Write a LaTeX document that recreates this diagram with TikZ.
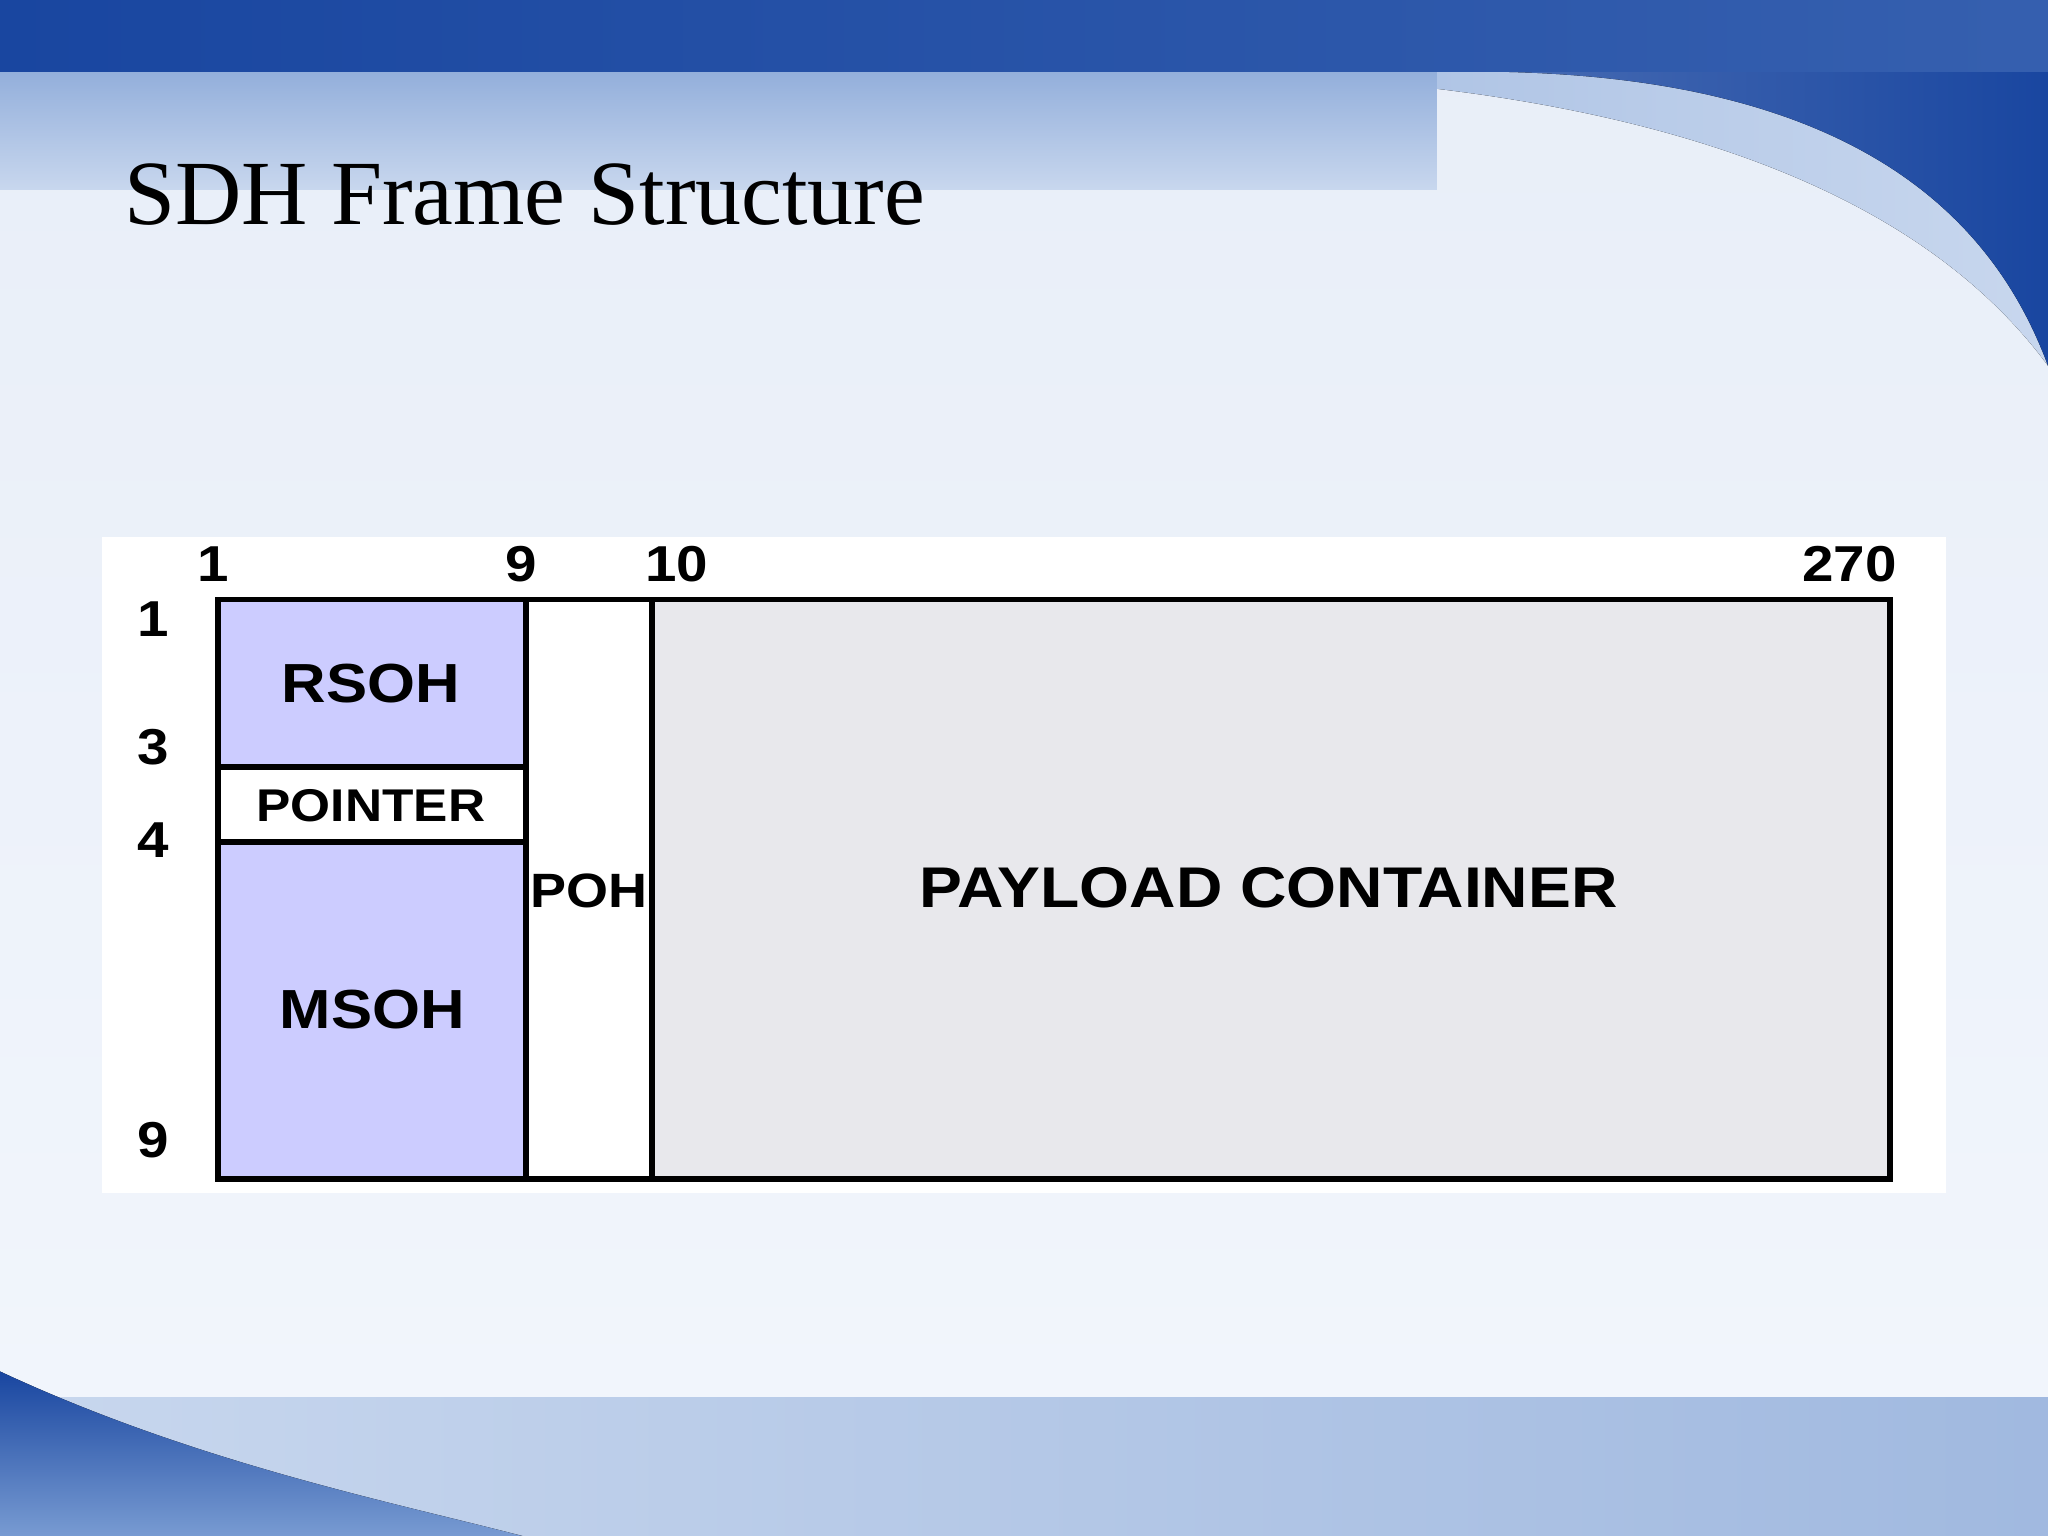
\documentclass[tikz,border=0pt]{standalone}
\usepackage{fontspec}
\setmainfont{Liberation Serif}
\newfontfamily\arial[FakeStretch=1.12]{Liberation Sans}
\definecolor{dkb}{RGB}{25,70,160}
\definecolor{mdb}{RGB}{120,155,210}
\definecolor{ltb}{RGB}{200,215,238}
\definecolor{bg1}{RGB}{232,238,248}
\definecolor{bg2}{RGB}{242,246,252}
\definecolor{lav}{RGB}{204,204,255}
\definecolor{gry}{RGB}{232,232,236}
\begin{document}
\begin{tikzpicture}[x=0.02cm,y=-0.02cm,
  box/.style={draw=black,line width=2.6pt},
  lbl/.style={font=\arial\bfseries\fontsize{24}{26}\selectfont},
  num/.style={font=\arial\bfseries\fontsize{22}{24}\selectfont}]
\useasboundingbox (0,0) rectangle (1568,1176);
% background
\fill[top color=bg1,bottom color=bg2] (0,0) rectangle (1568,1176);
\fill[left color=mdb,right color=ltb] (0,55) -- (900,55) .. controls (1200,60) and (1450,120) .. (1568,280) -- (1568,55) -- (0,55) -- cycle;
\fill[top color=mdb!80!white, bottom color=ltb] (0,55) rectangle (1100,145);
\fill[left color=dkb!80!white,right color=dkb] (1150,55) .. controls (1400,60) and (1520,150) .. (1568,280) -- (1568,55) -- cycle;
\fill[left color=dkb,right color=dkb!70!mdb] (0,0) rectangle (1568,55);
\fill[left color=ltb,right color=mdb!70!white] (0,1070) rectangle (1568,1176);
\fill[top color=dkb,bottom color=mdb] (0,1050) .. controls (150,1120) and (300,1150) .. (400,1176) -- (0,1176) -- cycle;
\node[anchor=base west,inner sep=0,font=\fontsize{40}{44}\selectfont] (title) at (95,172) {SDH Frame Structure};
% panel
\fill[white] (78,411) rectangle (1490,913);
% boxes
\draw[box,fill=lav] (167,459) rectangle (403,587);
\draw[box,fill=white] (167,587) rectangle (403,645);
\draw[box,fill=lav] (167,645) rectangle (403,903);
\draw[box,fill=white] (403,459) rectangle (499,903);
\draw[box,fill=gry] (499,459) rectangle (1447,903);
\node[lbl] (rsoh) at (284,523) {RSOH};
\node[lbl,font=\arial\bfseries\fontsize{20}{22}\selectfont] (ptr) at (284,617) {POINTER};
\node[lbl,font=\arial\bfseries\fontsize{21}{23}\selectfont] (poh) at (451,682) {POH};
\node[lbl] (msoh) at (285,773) {MSOH};
\node[lbl,font=\arial\bfseries\fontsize{25}{27}\selectfont] (pay) at (971,680) {PAYLOAD CONTAINER};
\node[num] (c1) at (163,432) {1};
\node[num] (c9) at (399,432) {9};
\node[num] (c10) at (518,432) {10};
\node[num] (c270) at (1416,432) {270};
\node[num] (r1) at (117,474) {1};
\node[num] (r3) at (117,572) {3};
\node[num] (r4) at (117,643) {4};
\node[num] (r9) at (117,873) {9};
\end{tikzpicture}
\end{document}
